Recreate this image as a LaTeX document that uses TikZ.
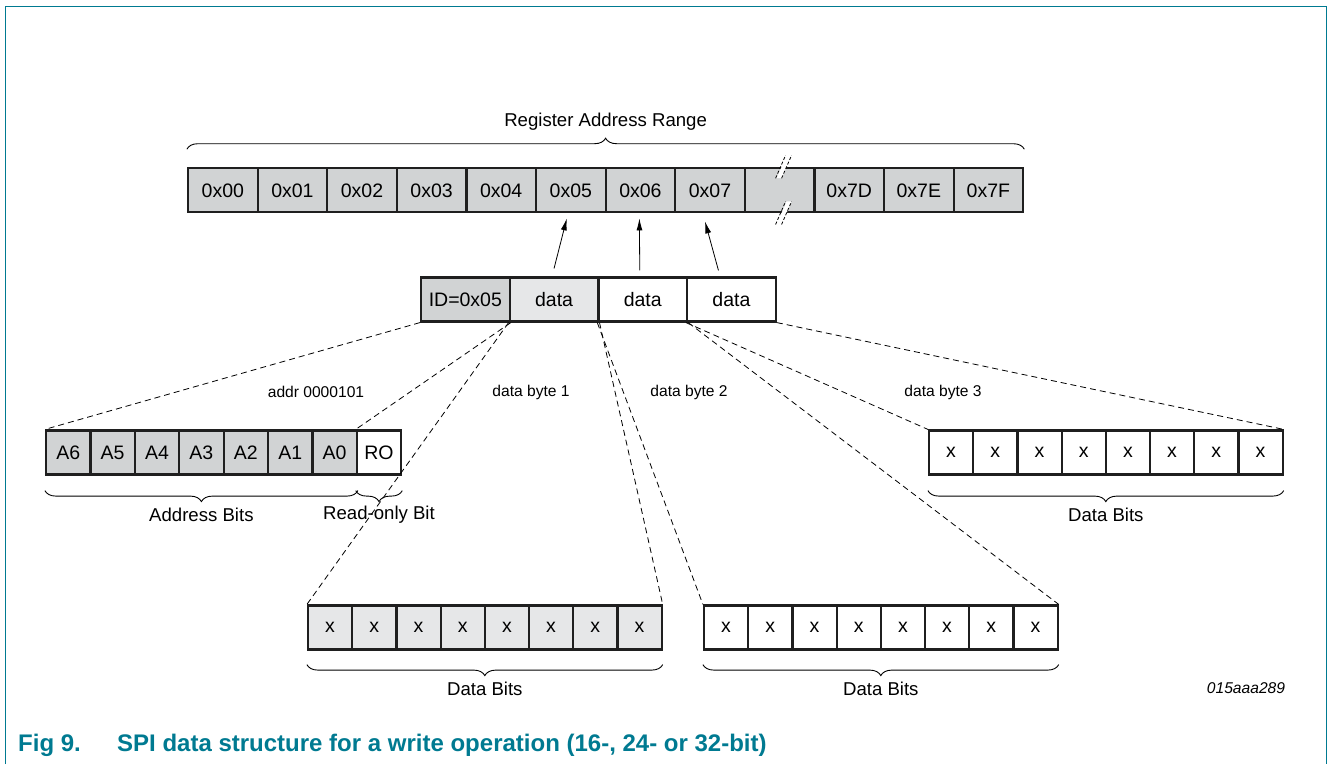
\documentclass[tikz,border=0pt]{standalone}
\usepackage{fontspec}
\setmainfont{Liberation Sans}
\usetikzlibrary{positioning,calc,arrows.meta,decorations.pathreplacing}
\definecolor{nxpteal}{RGB}{0,122,145}
\definecolor{darkcell}{RGB}{209,211,212}
\definecolor{lightcell}{RGB}{230,231,232}
\begin{document}
\begin{tikzpicture}[x=1pt,y=-1pt,
    bitcell/.style={draw=black!88,line width=2.2pt,minimum height=44pt,inner sep=0pt,font=\fontsize{19.5}{21}\selectfont},
    regcell/.style={bitcell,fill=darkcell,minimum width=69.6pt},
    bytecell/.style={bitcell,minimum width=88.7pt},
    addrcell/.style={bitcell,minimum width=44.4pt},
    xcell/.style={bitcell,minimum width=44.2pt},
    zoomline/.style={dash pattern=on 6pt off 4pt,line width=0.8pt},
    brk/.style={dash pattern=on 3pt off 2pt,line width=0.8pt},
    brup/.style={decorate,decoration={brace,amplitude=11pt},line width=0.9pt},
    brdown/.style={decorate,decoration={brace,mirror,amplitude=11pt},line width=0.9pt},
    lbl/.style={font=\fontsize{18.6}{20}\selectfont},
    smalllbl/.style={font=\fontsize{15.6}{18}\selectfont},
    caption/.style={font=\fontsize{24}{26}\selectfont\bfseries,text=nxpteal,inner sep=0pt,anchor=west}]
    \useasboundingbox (0,0) rectangle (1328,764);
    \draw[nxpteal,line width=1.5pt] (5.3,764) -- (5.3,6.3) -- (1326.7,6.3) -- (1326.7,764);
    % register map
    \foreach \lab [count=\i from 0] in {0x00,0x01,0x02,0x03,0x04,0x05,0x06,0x07,{},0x7D,0x7E,0x7F}
        \node[regcell] (r\i) at (188+69.6*\i+34.8,190.3) {\lab};
    \foreach \a in {north,south} {
        \fill[white] ($(r8.\a)+(-3,11)$) -- ($(r8.\a)+(2,11)$) -- ($(r8.\a)+(12,-12)$) -- ($(r8.\a)+(7,-12)$) -- cycle;
        \draw[brk] ($(r8.\a)+(-4,11)$) -- ($(r8.\a)+(6,-12)$);
        \draw[brk] ($(r8.\a)+(2,11)$) -- ($(r8.\a)+(12,-12)$);
    }
    \draw[brup] ($(r0.north west)+(0,-18)$) -- ($(r11.north east)+(0,-18)$)
        node[midway,lbl,yshift=28pt] {Register Address Range};
    % frame
    \foreach \lab/\fc/\n [count=\i from 0] in {ID=0x05/darkcell/id,data/lightcell/d1,data/white/d2,data/white/d3}
        \node[bytecell,fill=\fc] (\n) at (421+88.7*\i+44.35,299.5) {\lab};
    \draw[-{Latex[length=12pt,width=6pt]},line width=0.8pt] ($(d1.north)+(0,-8)$) -- ($(r5.south)+(-4,5)$);
    \draw[-{Latex[length=12pt,width=6pt]},line width=0.8pt] ($(d2.north)+(-3,-6)$) -- ($(r6.south)+(-1,5)$);
    \draw[-{Latex[length=12pt,width=6pt]},line width=0.8pt] ($(d3.north)+(-13,-6)$) -- ($(r7.south)+(-5,8)$);
    % bits
    \foreach \lab/\fc [count=\i] in {A6/darkcell,A5/darkcell,A4/darkcell,A3/darkcell,A2/darkcell,A1/darkcell,A0/darkcell,RO/white}
        \node[addrcell,fill=\fc] (a\i) at (46+44.4*\i-22.2,452.5) {\lab};
    \foreach \i in {1,...,8} {
        \node[xcell,fill=lightcell] (ba\i) at (308+44.2*\i-22.1,627.5) {x};
        \node[xcell,fill=white] (bb\i) at (704+44.2*\i-22.1,627.5) {x};
        \node[xcell,fill=white] (bc\i) at (929+44.2*\i-22.1,452.5) {x};
    }
    \draw[zoomline] (id.south west) -- (a1.north west);
    \draw[zoomline] (id.south east) -- (a8.north west);
    \draw[zoomline] (d1.south west) -- (ba1.north west);
    \draw[zoomline] (d1.south east) -- (ba8.north east);
    \draw[zoomline] (d2.south west) -- (bb1.north west);
    \draw[zoomline] (d2.south east) -- (bb8.north east);
    \draw[zoomline] (d3.south west) -- (bc1.north west);
    \draw[zoomline] (d3.south east) -- (bc8.north east);
    \node[smalllbl] (addrlbl) at (316,392) {addr 0000101};
    \node[smalllbl] (byte1lbl) at (531,392) {data byte 1};
    \node[smalllbl] (byte2lbl) at (689,392) {data byte 2};
    \node[smalllbl] (byte3lbl) at (943,392) {data byte 3};
    % braces
    \draw[brdown] ($(a1.south west)+(0,15)$) -- ($(a7.south east)+(0,15)$) node[midway,lbl,yshift=-24pt] {Address Bits};
    \draw[brdown] ($(a8.south west)+(0,15)$) -- ($(a8.south east)+(0,15)$) node[midway,lbl,yshift=-24pt] {Read-only Bit};
    \draw[brdown] ($(bc1.south west)+(0,15)$) -- ($(bc8.south east)+(0,15)$) node[midway,lbl,yshift=-24pt] {Data Bits};
    \draw[brdown] ($(ba1.south west)+(0,14)$) -- ($(ba8.south east)+(0,14)$) node[midway,lbl,yshift=-24pt] {Data Bits};
    \draw[brdown] ($(bb1.south west)+(0,14)$) -- ($(bb8.south east)+(0,14)$) node[midway,lbl,yshift=-24pt] {Data Bits};
    \node[smalllbl,font=\fontsize{15.6}{18}\selectfont\itshape] (docid) at (1246,688) {015aaa289};
    \node[caption] (figno) at (18,745) {Fig 9.};
    \node[caption] (figtitle) at (117,745) {SPI data structure for a write operation (16-, 24- or 32-bit)};
\end{tikzpicture}
\end{document}
